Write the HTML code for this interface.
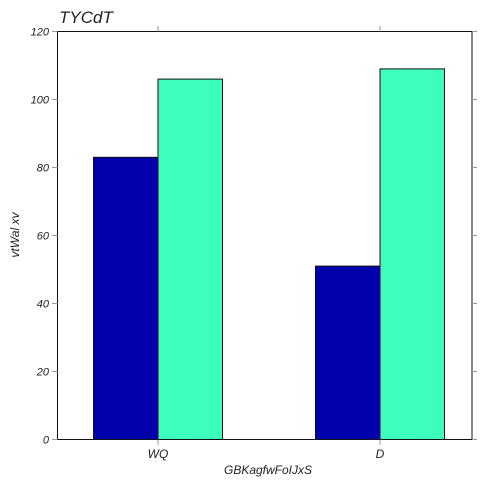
<!DOCTYPE html>
<html><head><meta charset="utf-8"><style>
body{margin:0;background:#fff}
svg text{font-family:"Liberation Sans",sans-serif;font-style:italic;fill:#222}
</style></head><body>
<svg id="chart" width="488" height="488" xmlns="http://www.w3.org/2000/svg">
<text x="59" y="23" font-size="17">TYCdT</text>
<g id="bars"></g>
<rect x="57.5" y="31.5" width="414.5" height="408" fill="none" stroke="#111" stroke-width="1"/>
<g id="yt"></g><g id="xt"></g>
<text x="268" y="474" font-size="12" text-anchor="middle">GBKagfwFoIJxS</text>
<text transform="translate(19,235) rotate(-90)" font-size="12" text-anchor="middle">vtWal xv</text>
</svg>
<script>
const categories=["WQ","D"];
const series1=[83,51];
const series2=[106,109];
const yTicks=[0,20,40,60,80,100,120];
const NS="http://www.w3.org/2000/svg";
const y=v=>439.5-v*(408/120);
const xc=i=>158+i*222;
const bw=64.5;
function mk(t,a,p){const e=document.createElementNS(NS,t);for(const k in a)e.setAttribute(k,a[k]);p.appendChild(e);return e;}
const bars=document.getElementById('bars');
categories.forEach((c,i)=>{
 const r1=mk('rect',{x:xc(i)-bw,y:y(series1[i]),width:bw,height:y(0)-y(series1[i]),fill:'#0000aa',stroke:'#111','stroke-width':1},bars);
 
 
 const r2=mk('rect',{x:xc(i),y:y(series2[i]),width:bw,height:y(0)-y(series2[i]),fill:'#3cffbe',stroke:'#111','stroke-width':1},bars);
 
 
});
const yt=document.getElementById('yt');
yTicks.forEach(v=>{
 const l=mk('line',{x1:52,x2:57.5,y1:y(v),y2:y(v),stroke:'#999'},yt);
 
 
 mk('line',{x1:472,x2:477,y1:y(v),y2:y(v),stroke:'#999'},yt);
 const t=mk('text',{x:49,y:y(v)+4,'font-size':11,'text-anchor':'end'},yt);
 t.textContent=v;
 
 
});
const xt=document.getElementById('xt');
categories.forEach((c,i)=>{
 mk('line',{x1:xc(i),x2:xc(i),y1:439.5,y2:445,stroke:'#999'},xt);
 mk('line',{x1:xc(i),x2:xc(i),y1:26,y2:31.5,stroke:'#999'},xt);
 const t=mk('text',{x:xc(i),y:458,'font-size':12,'text-anchor':'middle'},xt);
 t.textContent=c;
 
 
});
</script>
</body></html>
